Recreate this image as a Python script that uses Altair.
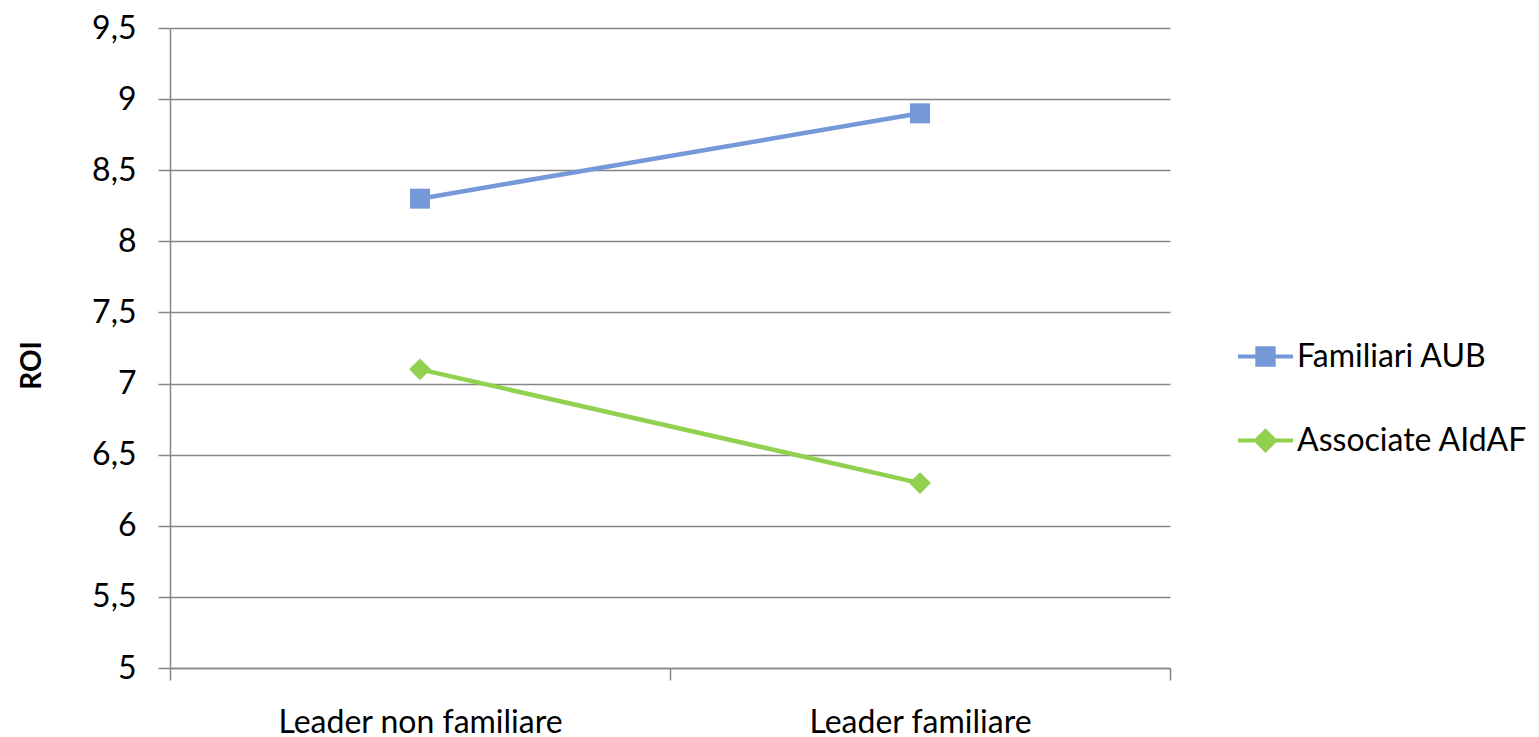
import altair as alt
import pandas as pd

categories = ["Leader non familiare", "Leader familiare"]
series_names = ["Familiari AUB", "Associate AIdAF"]
familiari_aub = [8.3, 8.9]
associate_aidaf = [7.1, 6.3]
colors = ["#7598D9", "#92D050"]

rows = []
for s, vals in zip(series_names, [familiari_aub, associate_aidaf]):
    for c, v in zip(categories, vals):
        rows.append({"categoria": c, "serie": s, "legenda": s, "ROI": v})
df = pd.DataFrame(rows)

FONT = "Lato"
FS = 32
W, H = 1000, 640

x_enc = alt.X(
    "categoria:N",
    sort=categories,
    scale=alt.Scale(domain=categories, paddingInner=0, paddingOuter=0),
    axis=alt.Axis(
        title=None, labelAngle=0, tickBand="extent", ticks=True, tickSize=12,
        tickColor="#868686", tickWidth=1.5, domainColor="#868686", domainWidth=1.5,
        labelFont=FONT, labelFontSize=FS, labelColor="#000000", labelPadding=27,
        labelLimit=0, grid=False,
    ),
)
y_enc = alt.Y(
    "ROI:Q",
    scale=alt.Scale(domain=[5, 9.5], nice=False, zero=False),
    axis=alt.Axis(
        title="ROI", titleFont=FONT, titleFontSize=28, titleFontWeight="bold",
        titleColor="#000000", titleAngle=-90, titleX=-138, titleY=337,
        titleAlign="center", titleBaseline="middle",
        values=[5, 5.5, 6, 6.5, 7, 7.5, 8, 8.5, 9, 9.5],
        labelExpr="replace(toString(datum.value), '.', ',')",
        labelFont=FONT, labelFontSize=FS, labelColor="#000000", labelPadding=22,
        tickSize=12, tickColor="#868686", tickWidth=1.5,
        domainColor="#868686", domainWidth=1.5,
        grid=True, gridColor="#868686", gridWidth=1.5,
    ),
)

color_scale = alt.Scale(domain=series_names, range=colors)

lines = alt.Chart(df).mark_line(strokeWidth=4.5).encode(
    x=x_enc, y=y_enc,
    color=alt.Color("serie:N", scale=color_scale, legend=None),
    detail="serie:N",
)

points = alt.Chart(df).mark_point(filled=True, opacity=1).encode(
    x=x_enc, y=y_enc,
    color=alt.Color("serie:N", scale=color_scale, legend=None),
    shape=alt.Shape("serie:N", scale=alt.Scale(domain=series_names, range=["square", "diamond"]), legend=None),
    size=alt.Size("serie:N", scale=alt.Scale(domain=series_names, range=[400, 480]), legend=None),
)

sq_path = "M-1,-0.075H1V0.075H-1Z M-0.37,-0.37H0.37V0.37H-0.37Z"
dm_path = "M-1,-0.075H1V0.075H-1Z M0,-0.45L0.45,0L0,0.45L-0.45,0Z"

legend_layer = alt.Chart(df).mark_point(filled=True, opacity=1, size=0).encode(
    x=x_enc, y=y_enc,
    color=alt.Color(
        "legenda:N", scale=alt.Scale(domain=series_names, range=colors),
        legend=alt.Legend(
            title=None, orient="none", legendX=1068, legendY=301,
            labelFont=FONT, labelFontSize=FS, labelColor="#000000", labelOffset=4,
            symbolSize=3025, symbolStrokeWidth=0, rowPadding=40, padding=0,
            symbolOpacity=1, labelLimit=0,
        ),
    ),
    shape=alt.Shape("legenda:N", scale=alt.Scale(domain=series_names, range=[sq_path, dm_path]), legend=None),
)

chart = alt.layer(lines, points, legend_layer).resolve_scale(
    color="independent", shape="independent", size="independent"
).properties(
    width=W, height=H,
    autosize=alt.AutoSizeParams(type="none"),
    padding={"left": 162, "top": 20, "right": 358, "bottom": 80},
).configure_view(stroke=None)

chart.save("out.html", embed_options={"renderer": "svg", "actions": False})
